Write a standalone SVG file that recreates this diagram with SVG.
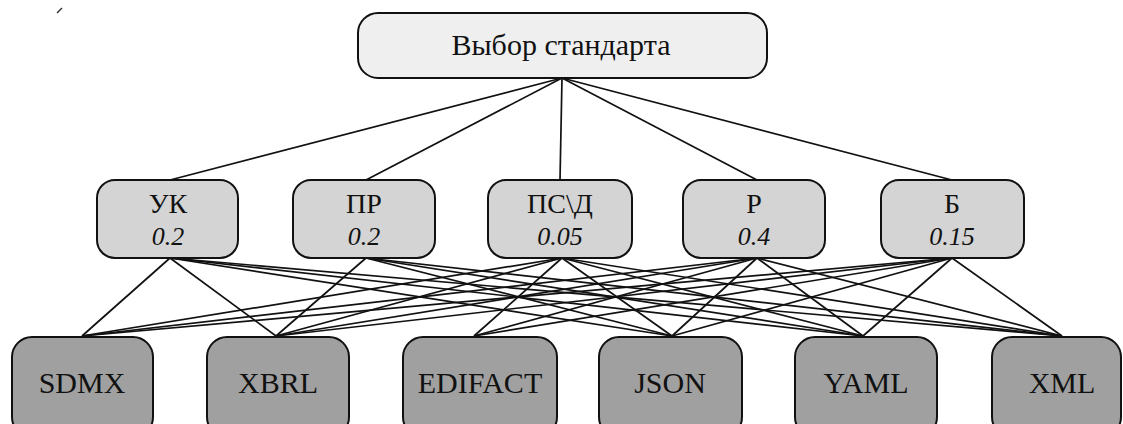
<svg xmlns="http://www.w3.org/2000/svg" width="1123" height="424" viewBox="0 0 1123 424">
<style>
.box{stroke:#111;stroke-width:2}
.top{fill:#efefef}
.mid{fill:#d4d4d4}
.bot{fill:#a0a0a0}
text{fill:#111;text-anchor:middle;font-family:"Liberation Serif","Times New Roman",Times,"DejaVu Serif",serif}
.t{font-size:30px}
.n{font-size:28px}
.w{font-size:26px;font-style:italic}
.b{font-size:30px}
#connectors line{stroke:#111;stroke-width:1.7}
</style>
<rect width="1123" height="424" fill="#fff"/>
<line x1="57" y1="13" x2="62" y2="8" stroke="#333" stroke-width="1.5"/>
<g id="connectors">
<line x1="562" y1="78" x2="170" y2="180"/>
<line x1="562" y1="78" x2="366" y2="180"/>
<line x1="562" y1="78" x2="560" y2="180"/>
<line x1="562" y1="78" x2="757" y2="180"/>
<line x1="562" y1="78" x2="952" y2="180"/>
<line x1="170" y1="258" x2="82" y2="336"/>
<line x1="170" y1="258" x2="276" y2="336"/>
<line x1="170" y1="258" x2="672" y2="336"/>
<line x1="170" y1="258" x2="863" y2="336"/>
<line x1="170" y1="258" x2="1062" y2="336"/>
<line x1="366" y1="258" x2="276" y2="336"/>
<line x1="366" y1="258" x2="672" y2="336"/>
<line x1="366" y1="258" x2="863" y2="336"/>
<line x1="366" y1="258" x2="1062" y2="336"/>
<line x1="562" y1="258" x2="82" y2="336"/>
<line x1="562" y1="258" x2="276" y2="336"/>
<line x1="562" y1="258" x2="474" y2="336"/>
<line x1="562" y1="258" x2="672" y2="336"/>
<line x1="562" y1="258" x2="863" y2="336"/>
<line x1="562" y1="258" x2="1062" y2="336"/>
<line x1="757" y1="258" x2="82" y2="336"/>
<line x1="757" y1="258" x2="276" y2="336"/>
<line x1="757" y1="258" x2="474" y2="336"/>
<line x1="757" y1="258" x2="672" y2="336"/>
<line x1="757" y1="258" x2="863" y2="336"/>
<line x1="757" y1="258" x2="1062" y2="336"/>
<line x1="952" y1="258" x2="82" y2="336"/>
<line x1="952" y1="258" x2="276" y2="336"/>
<line x1="952" y1="258" x2="474" y2="336"/>
<line x1="952" y1="258" x2="672" y2="336"/>
<line x1="952" y1="258" x2="863" y2="336"/>
<line x1="952" y1="258" x2="1062" y2="336"/>
</g>
<g id="goal"><rect class="box top" x="358" y="13" width="409" height="65" rx="20"/><text class="t" x="561" y="55" style="font-family:'Liberation Serif',serif">Выбор стандарта</text></g>
<g id="uk"><rect class="box mid" x="97" y="180" width="141" height="78" rx="18"/><text class="n" x="168" y="213">УК</text><text class="w" x="168" y="245">0.2</text></g>
<g id="pr"><rect class="box mid" x="293" y="180" width="142" height="78" rx="18"/><text class="n" x="364" y="213">ПР</text><text class="w" x="364" y="245">0.2</text></g>
<g id="psd"><rect class="box mid" x="488" y="180" width="144" height="78" rx="18"/><text class="n" x="560" y="213">ПС\Д</text><text class="w" x="560" y="245">0.05</text></g>
<g id="r"><rect class="box mid" x="683" y="180" width="142" height="78" rx="18"/><text class="n" x="754" y="213">Р</text><text class="w" x="754" y="245">0.4</text></g>
<g id="b"><rect class="box mid" x="881" y="180" width="143" height="78" rx="18"/><text class="n" x="952" y="213">Б</text><text class="w" x="952" y="245">0.15</text></g>
<g id="sdmx"><rect class="box bot" x="12" y="337" width="141" height="100" rx="20"/><text class="b" x="82" y="393">SDMX</text></g>
<g id="xbrl"><rect class="box bot" x="207" y="337" width="142" height="100" rx="20"/><text class="b" x="278" y="393">XBRL</text></g>
<g id="edifact"><rect class="box bot" x="403" y="337" width="154" height="100" rx="20"/><text class="b" x="480" y="393">EDIFACT</text></g>
<g id="json"><rect class="box bot" x="599" y="337" width="143" height="100" rx="20"/><text class="b" x="670" y="393">JSON</text></g>
<g id="yaml"><rect class="box bot" x="795" y="337" width="142" height="100" rx="20"/><text class="b" x="866" y="393">YAML</text></g>
<g id="xml"><rect class="box bot" x="992" y="337" width="129" height="100" rx="20"/><text class="b" x="1062" y="393">XML</text></g>
</svg>
